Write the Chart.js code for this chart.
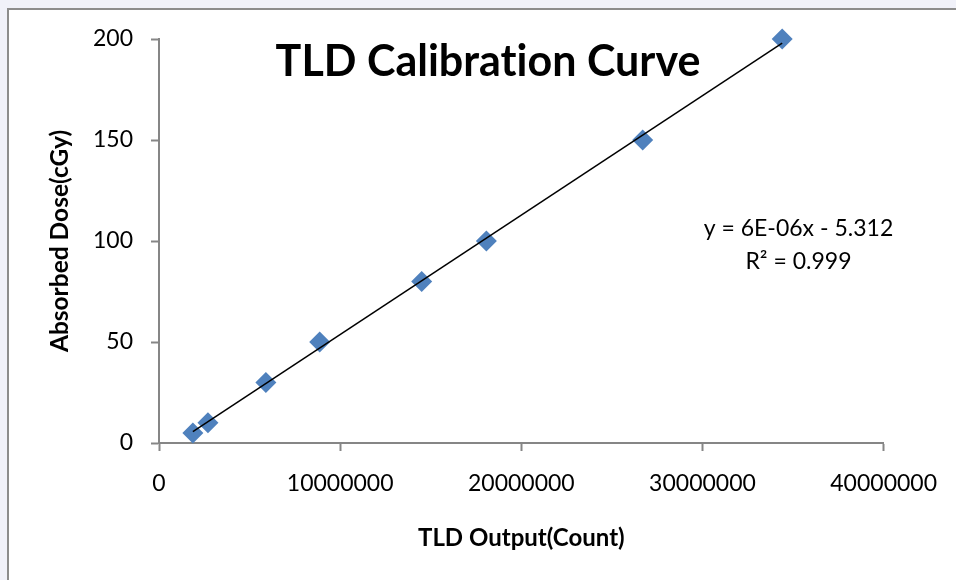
<!DOCTYPE html>
<html>
<head>
<meta charset="utf-8">
<script src="https://cdn.jsdelivr.net/npm/chart.js@4.4.1/dist/chart.umd.min.js"></script>
<style>
  html, body { margin: 0; padding: 0; background: #ffffff; }
  #wrap { width: 956px; height: 580px; position: relative; }
</style>
</head>
<body>
<div id="wrap"><canvas id="c" width="956" height="580"></canvas></div>
<script>
// ---- data ----
const tldCounts = [1870000, 2700000, 5900000, 8870000, 14500000, 18070000, 26700000, 34400000];
const doses = [5, 10, 30, 50, 80, 100, 150, 200];
const xTicks = [0, 10000000, 20000000, 30000000, 40000000];
const yTicks = [0, 50, 100, 150, 200];
const chartTitle = 'TLD Calibration Curve';
const xTitle = 'TLD Output(Count)';
const yTitle = 'Absorbed Dose(cGy)';
const eqLines = ['y = 6E-06x - 5.312', 'R\u00B2 = 0.999'];

// least-squares trendline from the data
const n = tldCounts.length;
const mx = tldCounts.reduce((a, b) => a + b, 0) / n;
const my = doses.reduce((a, b) => a + b, 0) / n;
let sxy = 0, sxx = 0;
for (let i = 0; i < n; i++) { sxy += (tldCounts[i] - mx) * (doses[i] - my); sxx += (tldCounts[i] - mx) ** 2; }
const slope = sxy / sxx, icpt = my - slope * mx;
const xMin = Math.min(...tldCounts), xMax = Math.max(...tldCounts);
const trend = [{x: xMin, y: slope * xMin + icpt}, {x: xMax, y: slope * xMax + icpt}];

const FONT = 'Lato, "Open Sans", sans-serif';
const AX = '#868686';

const framePlugin = {
  id: 'frame',
  beforeDraw(chart) {
    const ctx = chart.ctx;
    ctx.save();
    ctx.fillStyle = '#f0f1f9';
    ctx.fillRect(0, 0, chart.width, 8);
    ctx.fillRect(0, 0, 8, chart.height);
    ctx.fillStyle = '#ffffff';
    ctx.fillRect(9, 10, chart.width, chart.height);
    ctx.strokeStyle = '#8c8c8c';
    ctx.lineWidth = 2;
    ctx.strokeRect(8, 9, chart.width + 10, chart.height + 10);
    ctx.restore();
  },
  afterDraw(chart) {
    const ctx = chart.ctx;
    const xs = chart.scales.x, ys = chart.scales.y;
    ctx.save();
    ctx.fillStyle = '#000';
    ctx.textAlign = 'center';
    ctx.textBaseline = 'middle';
    ctx.font = 'bold 43px ' + FONT;
    if ('letterSpacing' in ctx) ctx.letterSpacing = '0.01px';
    ctx.fillText(chartTitle, 488, 62);
    ctx.font = '23px ' + FONT;
    const ex = xs.getPixelForValue(35300000);
    const ey = ys.getPixelForValue(106);
    ctx.fillText(eqLines[0], ex, ey);
    ctx.fillText(eqLines[1], ex, ey + 33);
    ctx.restore();
  }
};

new Chart(document.getElementById('c'), {
  type: 'scatter',
  data: {
    datasets: [
      {
        label: 'Dose',
        data: tldCounts.map((x, i) => ({x, y: doses[i]})),
        pointStyle: 'rectRot',
        radius: 10.5,
        backgroundColor: '#4F81BD',
        borderColor: '#4F81BD',
        borderWidth: 0,
        clip: false,
        order: 2
      },
      {
        type: 'line',
        label: 'Trend',
        data: trend,
        borderColor: '#000000',
        borderWidth: 1.5,
        pointRadius: 0,
        fill: false,
        clip: false,
        order: 1
      }
    ]
  },
  options: {
    responsive: false,
    animation: false,
    devicePixelRatio: 1,
    layout: { padding: { left: 8, top: 39, right: 71, bottom: 0 } },
    plugins: { legend: { display: false }, tooltip: { enabled: false }, title: { display: false } },
    scales: {
      x: {
        type: 'linear',
        min: 0, max: 40000000,
        afterBuildTicks(s) { s.ticks = xTicks.map(v => ({value: v})); },
        afterFit(s) { s.height = 137; },
        ticks: { color: '#000', font: { family: FONT, size: 23 }, padding: 19, maxRotation: 0, callback: v => String(v) },
        grid: { display: true, drawOnChartArea: false, tickLength: 8, color: AX, tickColor: AX, tickWidth: 2 },
        border: { color: AX, width: 2 },
        title: { display: true, text: xTitle, color: '#000', font: { family: FONT, size: 24, weight: 'bold' }, padding: { top: 0, bottom: 27 } }
      },
      y: {
        type: 'linear',
        min: 0, max: 200,
        afterBuildTicks(s) { s.ticks = yTicks.map(v => ({value: v})); },
        afterFit(s) { s.width = 151; },
        ticks: { color: '#000', font: { family: FONT, size: 23 }, padding: 18, callback: v => String(v) },
        grid: { display: true, drawOnChartArea: false, tickLength: 8, color: AX, tickColor: AX, tickWidth: 2 },
        border: { color: AX, width: 2 },
        title: { display: true, text: yTitle, color: '#000', font: { family: FONT, size: 24.5, weight: 'bold' }, padding: { top: 37, bottom: 0 } }
      }
    }
  },
  plugins: [framePlugin]
});
</script>
</body>
</html>
